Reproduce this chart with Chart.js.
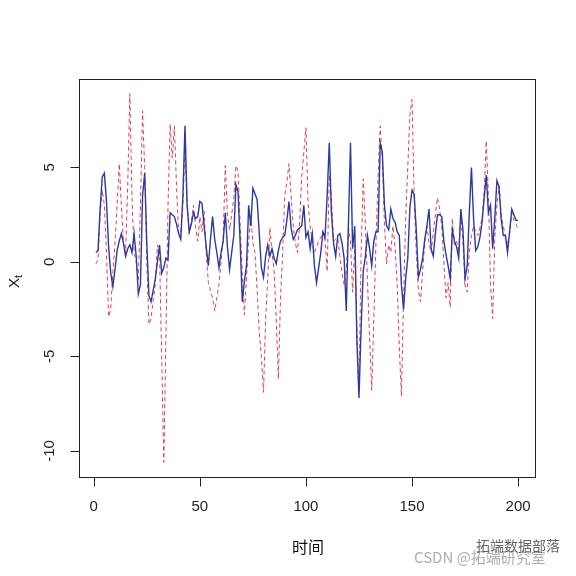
<!DOCTYPE html>
<html><head><meta charset="utf-8">
<script src="https://cdn.jsdelivr.net/npm/chart.js@4/dist/chart.umd.min.js"></script>
<style>html,body{margin:0;padding:0;background:#fff}#wrap{width:576px;height:576px}</style>
</head><body><div id="wrap"><canvas id="c" width="576" height="576"></canvas></div>
<script>
const seriesBlue = [0.5,0.6,2.8,4.5,4.7,3.2,0.8,-0.6,-1.3,-0.4,0.6,1.1,1.5,1.0,0.3,0.7,0.9,0.5,1.5,0.3,
-1.7,-1.2,3.5,4.7,1.0,-1.8,-2.1,-1.5,-0.9,0.0,0.9,-0.6,-0.3,0.2,0.1,2.6,2.5,2.4,2.0,1.5,
1.2,3.5,7.2,3.0,1.6,2.0,2.6,2.3,2.4,3.2,3.1,1.9,0.8,-0.2,1.2,2.4,1.2,0.5,-0.3,0.5,
1.1,2.6,0.8,-0.4,0.5,1.4,4.1,3.7,1.0,-2.1,-1.0,-0.2,3.0,1.9,3.9,3.6,3.3,1.5,-0.3,-0.8,
0.3,0.9,0.3,0.7,0.2,-0.1,0.6,1.1,1.3,1.4,2.2,3.2,1.8,1.2,1.4,1.7,1.8,1.9,3.0,1.3,
1.6,0.7,1.5,-0.2,-1.1,-0.3,0.5,1.6,1.3,3.5,6.3,2.6,1.0,0.3,1.4,1.5,1.0,0.2,-2.6,1.9,
6.3,0.7,1.9,-4.1,-7.2,-3.5,-0.5,0.3,1.4,0.7,-0.2,1.1,1.6,1.6,6.3,5.8,3.0,1.9,1.7,2.8,
2.3,2.1,1.6,1.4,-1.2,-2.5,-0.9,0.2,2.9,3.8,3.6,1.7,-0.8,-0.4,0.2,1.2,1.9,2.8,0.7,0.3,
1.5,2.5,2.5,2.4,1.1,0.4,-0.2,-0.9,1.7,1.1,0.8,0.2,2.8,1.7,-0.9,-0.2,2.6,5.0,2.3,0.6,
0.8,1.3,2.1,3.4,4.6,2.6,3.0,0.7,2.3,4.3,4.0,2.3,1.4,1.4,0.5,1.6,2.8,2.5,2.2,2.2];
const seriesRed = [-0.1,0.1,2.5,3.8,3.0,0.5,-2.9,-2.5,-0.5,1.0,3.0,5.2,3.0,1.0,0.5,4.0,8.9,3.5,0.5,0.0,
-1.0,3.0,8.0,5.0,0.0,-3.3,-3.0,-2.0,-1.2,0.9,0.5,-5.0,-10.6,-4.0,3.0,7.3,5.5,7.2,4.0,1.5,
1.5,3.0,6.0,3.0,1.5,2.2,3.0,1.8,1.1,2.4,1.6,2.7,0.5,-1.1,-1.5,-1.9,-2.6,-1.9,-1.2,0.0,
1.4,5.1,2.5,1.7,2.5,3.4,5.1,4.8,2.0,-0.6,-2.8,-0.8,1.1,2.4,1.0,0.5,-1.5,-3.7,-5.0,-6.9,
-3.0,-0.9,1.8,0.5,-0.5,-3.0,-6.2,-2.0,0.5,3.5,4.2,5.2,3.5,1.9,1.0,0.5,2.0,4.5,5.8,7.1,
3.1,1.9,1.0,0.5,0.8,1.1,1.3,1.6,1.1,-0.5,4.6,3.4,1.1,1.2,1.25,0.3,-0.6,-1.2,-0.5,1.9,
1.1,-1.6,0.9,-3.5,-6.8,0.5,4.4,2.0,-1.0,-4.0,-6.8,-3.0,1.0,4.5,7.2,5.5,2.0,-0.1,0.9,0.5,
1.9,0.8,-1.2,-4.5,-7.1,-2.0,2.3,5.0,7.8,8.6,3.5,0.5,-1.5,-2.1,-0.5,1.0,1.9,1.0,0.5,1.5,
2.5,3.4,2.8,1.9,0.0,-1.9,-1.1,-2.4,2.3,0.9,1.1,0.5,2.5,1.0,-1.2,-1.6,0.5,1.4,1.9,1.6,
1.4,1.8,2.3,3.7,6.4,3.5,-1.2,-3.0,1.25,3.0,4.0,2.5,1.9,1.4,0.9,1.5,2.6,2.2,2.0,1.7];
const xTicks = [0,50,100,150,200];
const yTicks = [-10,-5,0,5];
const xTitle = '时间';
const yTitleMain = 'X';
const yTitleSub = 't';

const timeIdx = seriesBlue.map((_, i) => i + 1);
const toPts = arr => arr.map((v, i) => ({x: timeIdx[i], y: v}));

const axisPlugin = {
  id: 'rAxes',
  afterDraw(chart) {
    const ctx = chart.ctx, a = chart.chartArea;
    const xs = chart.scales.x, ys = chart.scales.y;
    ctx.save();
    ctx.strokeStyle = '#222'; ctx.lineWidth = 1;
    ctx.strokeRect(Math.round(a.left)+0.5, Math.round(a.top)+0.5, Math.round(a.right-a.left), Math.round(a.bottom-a.top));
    ctx.fillStyle = '#222';
    ctx.font = '15px "Liberation Sans", Arial, sans-serif';
    const bx = Math.round(a.bottom)+0.5;
    ctx.beginPath();
    const x0 = xs.getPixelForValue(xTicks[0]), x1 = xs.getPixelForValue(xTicks[xTicks.length-1]);
    ctx.moveTo(x0, bx); ctx.lineTo(x1, bx);
    xTicks.forEach(t => { const p = Math.round(xs.getPixelForValue(t))+0.5; ctx.moveTo(p, bx); ctx.lineTo(p, bx+9); });
    ctx.stroke();
    ctx.textAlign = 'center'; ctx.textBaseline = 'middle';
    xTicks.forEach(t => ctx.fillText(String(t), xs.getPixelForValue(t), 507));
    const lx = Math.round(a.left)+0.5;
    ctx.beginPath();
    const y0 = ys.getPixelForValue(yTicks[0]), y1 = ys.getPixelForValue(yTicks[yTicks.length-1]);
    ctx.moveTo(lx, y0); ctx.lineTo(lx, y1);
    yTicks.forEach(t => { const p = Math.round(ys.getPixelForValue(t))+0.5; ctx.moveTo(lx, p); ctx.lineTo(lx-9, p); });
    ctx.stroke();
    yTicks.forEach(t => {
      ctx.save(); ctx.translate(50, ys.getPixelForValue(t)); ctx.rotate(-Math.PI/2);
      ctx.fillText(String(t), 0, 0); ctx.restore();
    });
    ctx.font = '16px "Noto Sans CJK SC", sans-serif';
    ctx.fillStyle = '#111';
    ctx.fillText(xTitle, 308, 547);
    ctx.save(); ctx.translate(15, 280); ctx.rotate(-Math.PI/2);
    ctx.font = '15px "Liberation Sans", Arial, sans-serif';
    ctx.textAlign = 'right'; ctx.fillText(yTitleMain, 2, 0);
    ctx.font = '11px "Liberation Sans", Arial, sans-serif';
    ctx.textAlign = 'left'; ctx.fillText(yTitleSub, 2, 4);
    ctx.restore();
    ctx.textAlign = 'left';
    ctx.font = '15px "Noto Sans CJK SC", sans-serif';
    ctx.fillStyle = 'rgba(160,160,160,0.85)';
    ctx.fillText('CSDN @拓端研究室', 414, 557);
    ctx.fillStyle = 'rgba(60,60,60,0.8)';
    ctx.font = '14px "Noto Sans CJK SC", sans-serif';
    ctx.fillText('拓端数据部落', 476, 546);
    ctx.restore();
  }
};

new Chart(document.getElementById('c'), {
  type: 'line',
  data: {
    datasets: [
      {label: 'blue', data: toPts(seriesBlue), borderColor: '#2a3a9e', borderWidth: 1.4, pointRadius: 0, tension: 0, fill: false, order: 0},
      {label: 'red', data: toPts(seriesRed), borderColor: '#d9405a', borderWidth: 1, borderDash: [4, 3], pointRadius: 0, tension: 0, fill: false, order: 1}
    ]
  },
  options: {
    responsive: false, animation: false, devicePixelRatio: 1,
    layout: {padding: {left: 79, top: 79, right: 41, bottom: 99}},
    plugins: {legend: {display: false}, tooltip: {enabled: false}},
    scales: {
      x: {type: 'linear', min: -6.96, max: 207.96, display: false},
      y: {type: 'linear', min: -11.38, max: 9.68, display: false}
    }
  },
  plugins: [axisPlugin]
});
</script></body></html>
